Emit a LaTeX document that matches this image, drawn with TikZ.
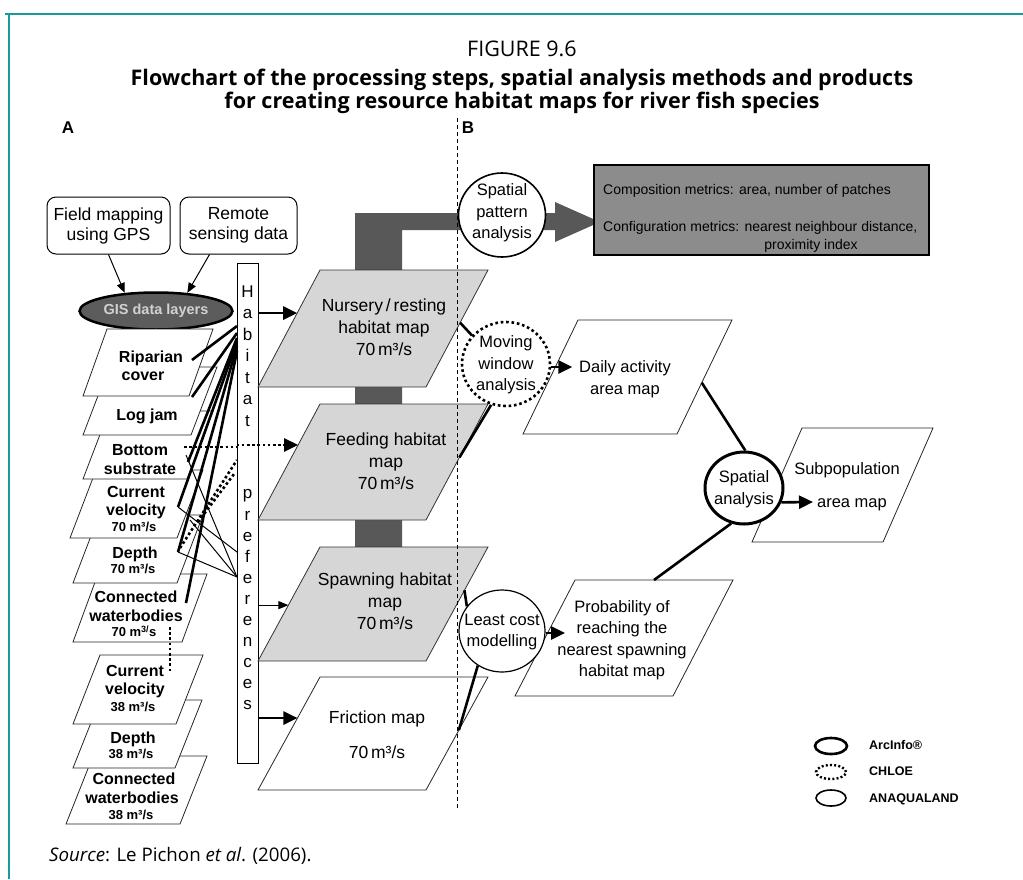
\documentclass[tikz,border=0pt]{standalone}
\usepackage{fontspec}
\setmainfont{Liberation Sans}
\newfontfamily\titlefont{Open Sans}
\usetikzlibrary{shapes.geometric,arrows.meta,calc}
\definecolor{frame}{RGB}{25,155,155}
\definecolor{darkbar}{RGB}{88,88,88}
\definecolor{mapgray}{RGB}{214,214,214}
\definecolor{compgray}{RGB}{140,140,140}
\definecolor{gisgray}{RGB}{92,92,92}
\newcommand\myfs[2]{\fontsize{#1}{#2}\selectfont}
% name, bottom-left x, bottom y, top y, slant, width, style
\newcommand\mypara[7]{%
  \coordinate (#1-bl) at (#2,#3);
  \coordinate (#1-br) at ({#2+#6},#3);
  \coordinate (#1-tl) at ({#2+#5},#4);
  \coordinate (#1-tr) at ({#2+#5+#6},#4);
  \draw[#7] (#1-bl) -- (#1-br) -- (#1-tr) -- (#1-tl) -- cycle;}
\begin{document}
\begin{tikzpicture}[x=1pt,y=-1pt,
  thk/.style={line width=2.6pt},
  thn/.style={line width=1pt},
  dtt/.style={line width=2.6pt, dash pattern=on 2.6pt off 2.6pt},
  arr/.style={-{Triangle[length=14pt,width=13pt]}},
  arrthin/.style={-{Triangle[length=10pt,width=8pt]}},
  mapfill/.style={draw=black!80, line width=0.8pt, fill=mapgray},
  mapwhite/.style={draw=black!85, line width=0.8pt, fill=white},
  stackbox/.style={draw=black!85, line width=0.8pt, fill=white},
  bl16/.style={inner sep=0pt, font=\myfs{16}{19}\bfseries, text height=11.5pt, text depth=0pt},
  bl13/.style={inner sep=0pt, font=\myfs{13}{15}\bfseries, text height=9.4pt, text depth=0pt},
  rg/.style={inner sep=0pt, align=center, font=\myfs{17.5}{22}},
  rg1/.style={inner sep=0pt, font=\myfs{17.5}{22}, text height=12.6pt, text depth=0pt},
  rs/.style={inner sep=0pt, align=center, font=\myfs{16.5}{21.5}},
  rs1/.style={inner sep=0pt, font=\myfs{16.5}{21.5}, text height=11.9pt, text depth=0pt},
  cmtext/.style={inner sep=0pt, font=\myfs{14}{17}, text height=10.1pt, text depth=0pt},
  ellbox/.style={ellipse, draw, fill=white, inner sep=0pt},
  lgtext/.style={inner sep=0pt, anchor=west, font=\myfs{12.5}{14}\bfseries, text height=9pt, text depth=0pt},
  ttl/.style={inner sep=0pt, text height=15.4pt, text depth=0pt}
]
\useasboundingbox (0,0) rectangle (1023,879);
% frame
\draw[frame, line width=2pt] (5,14) -- (1023,14);
\draw[frame, line width=2pt] (9,14) -- (9,879);
% titles
\node[ttl, font=\titlefont\myfs{21.5}{25}] (fig) at (522,49) {FIGURE 9.6};
\node[ttl, font=\titlefont\bfseries\myfs{21.5}{25}] (t1) at (522,78) {Flowchart of the processing steps, spatial analysis methods and products};
\node[ttl, font=\titlefont\bfseries\myfs{21.5}{25}] (t2) at (522,101) {for creating resource habitat maps for river fish species};
\node[anchor=west, font=\titlefont\myfs{18.7}{22}, inner sep=0pt, text height=13.4pt, text depth=0pt] (src) at (49,855) {\textit{Source}: Le Pichon \textit{et al}. (2006).};
\node[font=\myfs{17}{20}\bfseries] (lA) at (68,128) {A};
\node[font=\myfs{17}{20}\bfseries] (lB) at (468,128) {B};

% input boxes
\node[draw, line width=1pt, rounded corners=9pt, minimum width=123pt, minimum height=57pt, align=center, inner sep=0pt, font=\myfs{17.5}{20}] (fmg) at (108.5,225.5) {Field mapping\\using GPS};
\node[draw, line width=1pt, rounded corners=9pt, minimum width=117pt, minimum height=57pt, align=center, inner sep=0pt, font=\myfs{17.5}{20}] (rsd) at (238.5,225.5) {Remote\\sensing data};
\node[ellipse, draw, line width=2.5pt, fill=gisgray, minimum width=153pt, minimum height=37pt, inner sep=0pt] (gis) at (156,311) {};
\node[font=\myfs{14.5}{17}\bfseries, text=black!18, inner sep=0pt] (gist) at (gis) {GIS data layers};
\draw[thn, arrthin] (fmg.south) -- (gis.150);
\draw[thn, arrthin] (rsd.225) -- (gis.30);

% left stack (drawn bottom first so upper layers lie on top)
\mypara{con38}{66}{824}{756}{27}{114}{stackbox}
\node[bl16] (con38a) at (134,779) {Connected};
\node[bl16] (con38b) at (132,798) {waterbodies};
\node[bl13] (con38c) at (131,815) {38 m³/s};
\mypara{dep38}{73}{768}{700}{27}{102}{stackbox}
\node[bl16] (dep38a) at (133,738) {Depth};
\node[bl13] (dep38b) at (131,754) {38 m³/s};
\mypara{cv38}{73}{724}{655}{27}{103}{stackbox}
\node[bl16] (cv38a) at (135,671) {Current};
\node[bl16] (cv38b) at (135,689) {velocity};
\node[bl13] (cv38c) at (133,707) {38 m³/s};
\mypara{con70}{73}{642}{574}{25}{109}{stackbox}
\node[bl16] (con70a) at (136,597) {Connected};
\node[bl16] (con70b) at (136,616) {waterbodies};
\node[bl13] (con70c) at (134,632) {70 m\textsuperscript{3/}s};
\mypara{dep70}{73}{583}{515}{26}{104}{stackbox}
\node[bl16] (dep70a) at (135,553) {Depth};
\node[bl13] (dep70b) at (133,569) {70 m³/s};
\mypara{cv70}{70}{538}{470}{26}{107}{stackbox}
\node[bl16] (cv70a) at (136,492) {Current};
\node[bl16] (cv70b) at (136,510) {velocity};
\node[bl13] (cv70c) at (134,527) {70 m³/s};
\mypara{bot}{83}{479}{411}{26}{104}{stackbox}
\node[bl16] (bota) at (140,450) {Bottom};
\node[bl16] (botb) at (140,469) {substrate};
\mypara{log}{83}{435}{367}{26}{108}{stackbox}
\node[bl16] (loga) at (147,415) {Log jam};
\mypara{rip}{83}{396}{329}{24}{106}{stackbox}
\node[bl16] (ripa) at (151,357) {Riparian};
\node[bl16] (ripb) at (143,375) {cover};

% habitat preferences bar
\node[draw, line width=0.9pt, fill=white, minimum width=21pt, minimum height=500pt, inner sep=0pt] (hab) at (247.5,513) {};
\node[align=center, font=\myfs{17}{21.5}, inner sep=0pt] (habt1) at (247.5,356) {H\\a\\b\\i\\t\\a\\t};
\node[align=center, font=\myfs{17}{21.1}, inner sep=0pt] (habt2) at (247.5,600) {p\\r\\e\\f\\e\\r\\e\\n\\c\\e\\s};

% links from layers to the habitat bar
\coordinate (rip-o) at (192,360);
\coordinate (log-o) at (192,397);
\coordinate (bot-o) at (188,462);
\coordinate (bot-o2) at (186,455);
\coordinate (bot-o3) at (184,447);
\coordinate (cv70-o) at (178,507);
\coordinate (cv70-o2) at (190,520);
\coordinate (cv70-o3) at (180,548);
\coordinate (dep70-o) at (178,552);
\coordinate (dep70-o2) at (198,522);
\coordinate (con70-o) at (186,603);
\coordinate (con70-o2) at (170,627);
\coordinate (cv38-o) at (170,672);
\coordinate (hb1) at (237,326);
\coordinate (hb2) at (237,333);
\coordinate (hb3) at (237,338);
\coordinate (hb4) at (237,342);
\coordinate (hb5) at (237,346);
\coordinate (hb6) at (237,351);
\coordinate (hs1) at (237,552);
\coordinate (hs2) at (237,577);
\coordinate (hd1) at (237,460);
\coordinate (hd2) at (234,474);
\draw[thk] (rip-o) -- (hb1);
\draw[thk] (log-o) -- (hb2);
\draw[thk] (bot-o) -- (hb3);
\draw[thk] (cv70-o) -- (hb4);
\draw[thk] (dep70-o) -- (hb5);
\draw[thk] (con70-o) -- (hb6);
\draw[thn] (bot-o2) -- (hs2);
\draw[thn] (cv70-o) -- (hs1);
\draw[thn] (cv70-o2) -- (hs2);
\draw[thn] (dep70-o) -- (hs2);
\draw[dtt] (bot-o3) -- (hab.west |- bot-o3);
\draw[dtt] (cv70-o3) -- (hd1);
\draw[dtt] (dep70-o2) -- (hd2);
\draw[dtt] (con70-o2) -- (cv38-o);

% dark arrow to spatial pattern analysis
\fill[darkbar] (355,547) -- (355,213) -- (555,213) -- (555,202) -- (600,222) -- (555,242) -- (555,230) -- (402,230) -- (402,547) -- cycle;

% habitat maps
\mypara{nur}{258}{387}{270}{62}{168}{mapfill}
\node[rg] (nurt) at (384,327) {Nursery\,/\,resting\\habitat map\\70\,m³/s};
\mypara{fee}{258}{520}{404}{62}{168}{mapfill}
\node[rg] (feet) at (386,461) {Feeding habitat\\map\\70\,m³/s};
\mypara{spw}{258}{661}{547}{62}{168}{mapfill}
\node[rg] (spwt) at (385,601) {Spawning habitat\\map\\70\,m³/s};
\mypara{fri}{258}{790}{677}{62}{168}{mapwhite}
\node[rg1] (frit1) at (377,717) {Friction map};
\node[rg1] (frit2) at (377,752) {70\,m³/s};

% habitat bar to maps
\coordinate (nur-in) at ($(nur-bl)!0.632!(nur-tl)$);
\coordinate (fee-in) at ($(fee-bl)!0.647!(fee-tl)$);
\coordinate (spw-in) at ($(spw-bl)!0.49!(spw-tl)$);
\coordinate (fri-in) at ($(fri-bl)!0.637!(fri-tl)$);
\draw[thk, arr] (hab.east |- nur-in) -- (nur-in);
\draw[dtt, arr] (hab.west |- fee-in) -- (fee-in);
\draw[thn, arrthin] (hab.east |- spw-in) -- (spw-in);
\draw[thk, arr] (hab.east |- fri-in) -- (fri-in);

% divider
\draw[line width=0.9pt, dash pattern=on 4pt off 3pt] (457,118) -- (457,808);

% spatial pattern analysis and metrics
\node[ellbox, line width=1.6pt, minimum width=87pt, minimum height=84pt] (spa) at (502,215) {};
\node[rs] (spat) at (502,213) {Spatial\\pattern\\analysis};
\node[draw, line width=1.2pt, fill=compgray, minimum width=335pt, minimum height=90pt, inner sep=0pt] (comp) at (761.5,210) {};
\node[cmtext, anchor=west] (comp1) at (603,189) {Composition metrics: area, number of patches};
\node[cmtext, anchor=west] (comp2) at (603,226) {Configuration metrics: nearest neighbour distance,};
\node[cmtext] (comp3) at (811,244) {proximity index};

% right side maps
\mypara{daily}{523}{434}{320}{55}{154}{mapwhite}
\node[rs] (dailyt) at (625,379) {Daily activity\\area map};
\mypara{prob}{515}{696}{580}{60}{158}{mapwhite}
\node[rs] (probt) at (622,640) {Probability of\\reaching the\\nearest spawning\\habitat map};
\mypara{sub}{752}{542}{428}{50}{131}{mapwhite}
\node[rs1] (subt1) at (847,469) {Subpopulation};
\node[rs1] (subt2) at (852,502) {area map};

% analysis ellipses
\node[ellbox, line width=2.6pt, dash pattern=on 2.6pt off 2.8pt, minimum width=88pt, minimum height=84pt] (mwa) at (506,364) {};
\node[rs] (mwat) at (506,365) {Moving\\window\\analysis};
\node[ellbox, line width=1.2pt, minimum width=86pt, minimum height=82pt] (lcm) at (502,631) {};
\node[rs] (lcmt) at (502,632) {Least cost\\modelling};
\node[ellbox, line width=3pt, minimum width=78pt, minimum height=72pt] (sa) at (744,488) {};
\node[rs] (sat) at (744,489) {Spatial\\analysis};

% connectors on the right
\coordinate (daily-in) at ($(daily-bl)!0.588!(daily-tl)+(17,0)$);
\coordinate (prob-in) at (565,633);
\coordinate (sub-in) at (813,502);
\draw[thk] ($(nur-br)!0.55!(nur-tr)$) -- (mwa.140);
\draw[thk] ($(fee-br)!0.54!(fee-tr)$) -- (mwa.250);
\draw[thk, arr] (mwa.east |- daily-in) -- (daily-in);
\draw[thk] ($(daily-br)!0.45!(daily-tr)$) -- (sa.88);
\draw[thk, arr] (sa.-21) -- (sub-in);
\draw[thk] ($(prob-tl)!0.5!(prob-tr)$) -- (sa.250);
\draw[thk] ($(spw-br)!0.62!(spw-tr)$) -- (lcm.145);
\draw[thk] ($(fri-br)!0.53!(fri-tr)$) -- (lcm.235);
\draw[thk, arr] (lcm.east |- prob-in) -- (prob-in);

% legend
\node[ellipse, draw, line width=2.6pt, minimum width=32pt, minimum height=16pt, inner sep=0pt] (lg1) at (831,746) {};
\node[ellipse, draw, line width=2.4pt, dash pattern=on 2pt off 2.2pt, minimum width=30pt, minimum height=14pt, inner sep=0pt] (lg2) at (831,772) {};
\node[ellipse, draw, line width=1.6pt, minimum width=30pt, minimum height=16pt, inner sep=0pt] (lg3) at (831,798) {};
\node[lgtext] (lgt1) at (869,745) {ArcInfo®};
\node[lgtext] (lgt2) at (869,771) {CHLOE};
\node[lgtext] (lgt3) at (869,798) {ANAQUALAND};
\end{tikzpicture}
\end{document}
